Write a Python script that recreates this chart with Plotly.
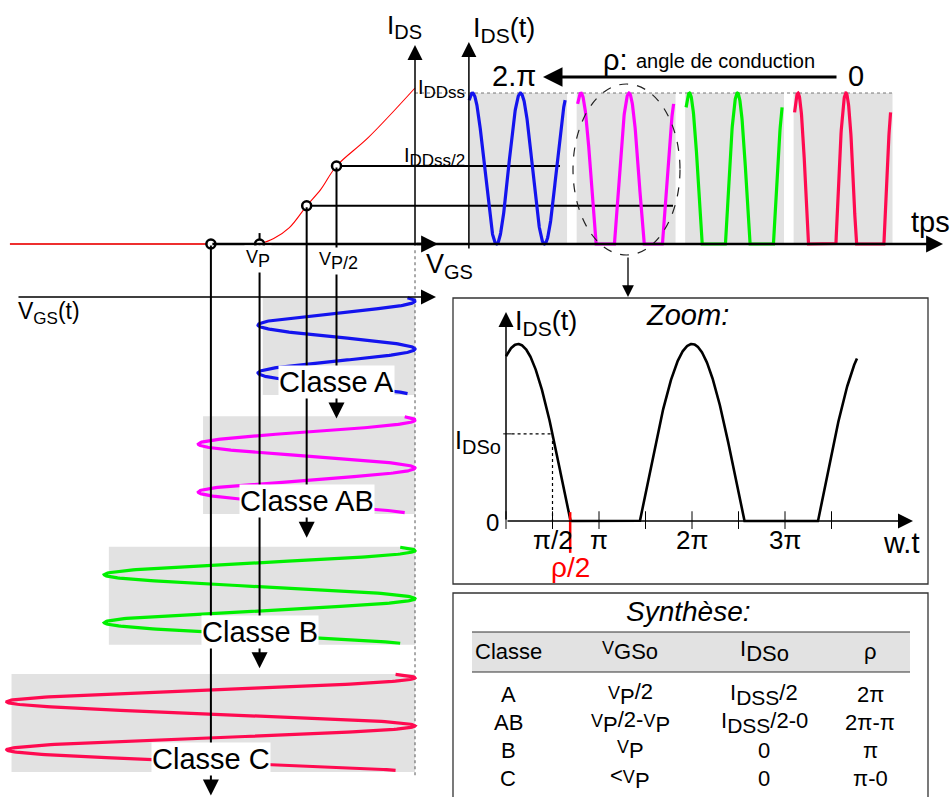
import numpy as np
import plotly.graph_objects as go

W, H = 952, 797
FONT = "Liberation Sans, Arial, sans-serif"


def sub(txt, size):
    return "<sub><span style='font-size:%dpx'>%s</span></sub>" % (size, txt)


# ------------------------------------------------------------------ data
classes = ["A", "AB", "B", "C"]
vgs_bias = [-0.5, -0.69, -0.99, -1.3]          # V_GSo / |V_P|
ids_bias = [0.5, 0.245, 0.0, 0.0]              # I_DSo / I_DSS at the Q point
ids_wave_offset = [0.5, 0.245, 0.0, -0.35]     # mean of the unclipped drain current
transfer_v = [-0.99, -0.9, -0.8, -0.69, -0.6, -0.5, -0.3, 0.0]
transfer_i = [0.0, 0.035, 0.105, 0.245, 0.35, 0.5, 0.68, 1.0]
zoom_lobe_peaks = [0.13, 2.0, 3.915]           # in units of pi
zoom_half_width = 0.56                         # rho/2 in units of pi
zoom_span = [0.0, 3.774]
zoom_tick_vals = [0, 0.5, 1, 1.5, 2, 2.5, 3, 3.5]
zoom_tick_text = ["", "π/2", "π", "", "2π", "", "3π", ""]
table_header = ["Classe", "<span style='font-size:18px'>V</span>" + sub("GSo", 22),
                "I" + sub("DSo", 22), "ρ"]
table_classe = ["A", "AB", "B", "C"]
table_vgso = ["<span style='font-size:18px'>V</span>" + sub("P", 22) + "/2",
              "<span style='font-size:18px'>V</span>" + sub("P", 22) + "/2-"
              + "<span style='font-size:18px'>V</span>" + sub("P", 22),
              "<span style='font-size:18px'>V</span>" + sub("P", 22),
              "&lt;<span style='font-size:18px'>V</span>" + sub("P", 22)]
table_idso = ["I" + sub("DSS", 21) + "/2", "I" + sub("DSS", 21) + "/2-0", "0", "0"]
table_rho = ["2π", "2π-π", "π", "π-0"]

# ------------------------------------------------------------------ style
class_colors = ["#1414ee", "#ff00ff", "#00f000", "#ff0a50"]
PANEL = "#e2e2e2"

# axis mappings (pixel origin, pixel per unit)
X1 = (415, 157)   # V_GS / |VP|
Y1 = (244, 156)   # I_DS / I_DSS (transfer)
X2 = (472.5, 48)  # time (periods) upper right
Y2 = (244, 151)   # I_DS(t)
Y3 = (301, 48)    # time (periods) downward, V_GS(t)
X3 = (506, 93)    # w.t in units of pi
Y4 = (521, 177)   # zoom current


def xr(m):
    o, s = m
    return [(0 - o) / s, (W - o) / s]


def yr_up(m):
    o, s = m
    return [(o - H) / s, o / s]


def yr_down(m):
    o, s = m
    return [(H - o) / s, (0 - o) / s]


def px(x):
    return x / W


def py(y):
    return 1 - y / H


fig = go.Figure()
ax_common = dict(visible=False, showgrid=False, zeroline=False, fixedrange=True, domain=[0, 1])
fig.update_layout(
    width=W, height=H, margin=dict(l=0, r=0, t=0, b=0, pad=0),
    paper_bgcolor="white", plot_bgcolor="rgba(0,0,0,0)", showlegend=False,
    font=dict(family=FONT, color="black"),
    xaxis=dict(range=xr(X1), **ax_common),
    xaxis2=dict(range=xr(X2), overlaying="x", anchor="y", **ax_common),
    xaxis3=dict(range=xr(X3), overlaying="x", anchor="y", **ax_common),
    yaxis=dict(range=yr_up(Y1), anchor="x", **ax_common),
    yaxis2=dict(range=yr_up(Y2), overlaying="y", anchor="x", **ax_common),
    yaxis3=dict(range=yr_down(Y3), overlaying="y", anchor="x", **ax_common),
    yaxis4=dict(range=yr_up(Y4), overlaying="y", anchor="x", **ax_common),
)


def line(xs, ys, xa="x", ya="y", color="black", width=2, dash=None, shape="linear"):
    fig.add_trace(go.Scatter(x=xs, y=ys, xaxis=xa, yaxis=ya, mode="lines",
                             line=dict(color=color, width=width, dash=dash, shape=shape),
                             hoverinfo="skip"))


def arrow(x, y, ax, ay, xref="x", yref="y", width=2, size=1.0, color="black"):
    fig.add_annotation(x=x, y=y, ax=ax, ay=ay, xref=xref, yref=yref, axref=xref, ayref=yref,
                       text="", showarrow=True, arrowhead=2, arrowsize=size,
                       arrowwidth=width, arrowcolor=color, standoff=0, startstandoff=0)


def arrow_px(xh, yh, xt, yt, width=2, size=1.0, color="black"):
    fig.add_annotation(x=px(xh), y=py(yh), ax=xt - xh, ay=yt - yh, xref="paper", yref="paper",
                       axref="pixel", ayref="pixel", text="", showarrow=True, arrowhead=2,
                       arrowsize=size, arrowwidth=width, arrowcolor=color, standoff=0,
                       startstandoff=0)


def label(text, x, y, size, xanchor="center", yanchor="middle", color="black", bg=None,
          xref="paper", yref="paper", pad=1):
    kw = {}
    if bg:
        kw = dict(bgcolor=bg, borderpad=pad)
    if xref == "paper":
        x = px(x)
    if yref == "paper":
        y = py(y)
    fig.add_annotation(x=x, y=y, xref=xref, yref=yref, text=text, showarrow=False,
                       xanchor=xanchor, yanchor=yanchor,
                       font=dict(size=size, color=color, family=FONT), **kw)


def y1_px(i):
    return Y1[0] - Y1[1] * i


def y3_from_px(p):
    return (p - Y3[0]) / Y3[1]


row_offsets = [0.0, 2.48, 5.2, 7.85]      # V_GS(t) rows (periods)
panel_offsets = [0.0, 2.26, 4.52, 6.78]   # I_DS(t) panels (periods)

# ------------------------------------------------------------------ grey panels
for k in range(4):
    v0 = vgs_bias[k]
    r = row_offsets[k]
    fig.add_shape(type="rect", xref="x", yref="y3", x0=2 * v0 + 0.03, x1=0, y0=r - 0.08,
                  y1=r + 1.96, fillcolor=PANEL, line_width=0, layer="below")
    o = panel_offsets[k]
    fig.add_shape(type="rect", xref="x2", yref="y2", x0=o - 0.09, x1=o + 1.97, y0=0, y1=1,
                  fillcolor=PANEL, line_width=0, layer="below")

# ------------------------------------------------------------------ transfer characteristic
line([-2.58, vgs_bias[3]], [0, 0], color="#777777", width=1.2)
line([-2.58, vgs_bias[2]], [0, 0], color="red", width=1.4)
line(transfer_v, transfer_i, color="red", width=1.1, shape="spline")
# I_DS axis + dotted prolongation
arrow(0, (Y1[0] - 45) / Y1[1], 0, -0.02, width=1.5, size=2.0)
line([0, 0], [-0.04, (Y1[0] - 778) / Y1[1]], color="#555555", width=1, dash="dot")
# horizontal V_GS / tps axis
arrow((943 - X1[0]) / X1[1], 0, vgs_bias[3], 0, width=2.5, size=1.35)
arrow((438 - X1[0]) / X1[1], 0, (415 - X1[0]) / X1[1], 0, width=2.5, size=1.35)
# VP tick
line([vgs_bias[2], vgs_bias[2]], [0, 0.07], width=2)
# horizontal lines from Q points of class A and AB
line([vgs_bias[0], (560 - X1[0]) / X1[1]], [ids_bias[0]] * 2, width=2)
line([vgs_bias[1], (673 - X1[0]) / X1[1]], [ids_bias[1]] * 2, width=2)
# dotted I_DSS line
line([(415 - X2[0]) / X2[1], (893 - X2[0]) / X2[1]], [1, 1], xa="x2", ya="y2",
     color="#777777", width=1, dash="dot")

# ------------------------------------------------------------------ V_GS(t) sinusoids
t = np.linspace(-0.07, 1.93, 400)
for k in range(4):
    v0 = vgs_bias[k]
    line(v0 + abs(v0) * np.cos(2 * np.pi * t), row_offsets[k] + t, xa="x", ya="y3",
         color=class_colors[k], width=3.2)

# V_GS(t) axis
arrow((436 - X1[0]) / X1[1], y3_from_px(297), (17 - X1[0]) / X1[1], y3_from_px(297),
      xref="x", yref="y3", width=1.5, size=2.0)

# vertical projection lines with arrow
for k in range(4):
    v0 = vgs_bias[k]
    top = y3_from_px(y1_px(ids_bias[k]))
    arrow(v0, row_offsets[k] + 2.45, v0, top, xref="x", yref="y3", width=2, size=1.6)

# Q-point markers
fig.add_trace(go.Scatter(x=vgs_bias, y=ids_bias, mode="markers", hoverinfo="skip",
                         marker=dict(symbol="circle", size=9, color="white",
                                     line=dict(color="black", width=2.5))))

# ------------------------------------------------------------------ I_DS(t) waveforms
for k in range(4):
    b = ids_wave_offset[k]
    i_t = np.maximum(0, b + (1 - b) * np.cos(2 * np.pi * t))
    line(panel_offsets[k] + t, i_t, xa="x2", ya="y2", color=class_colors[k], width=3.2)

arrow(-0.075, (Y2[0] - 42) / Y2[1], -0.075, -0.04, xref="x2", yref="y2", width=1.5, size=2.0)

# ellipse + arrow to the zoom box
fig.add_shape(type="circle", xref="paper", yref="paper", x0=px(573), x1=px(680),
              y0=py(84), y1=py(255), line=dict(color="#222222", width=1.2, dash="dash"))
arrow_px(628, 297, 628, 256, width=1.3, size=1.8)

# conduction angle arrow
arrow_px(543, 77, 838, 77, width=3, size=1.3)

# ------------------------------------------------------------------ zoom box
fig.add_shape(type="rect", xref="paper", yref="paper", x0=px(453), x1=px(928), y0=py(298),
              y1=py(584), line=dict(color="#333333", width=1.3))
b_z = -np.cos(zoom_half_width * np.pi) / (1 - np.cos(zoom_half_width * np.pi))
u = np.linspace(zoom_span[0], zoom_span[1], 800)
iz = np.zeros_like(u)
for pk in zoom_lobe_peaks:
    lobe = np.where(np.abs(u - pk) < 1, b_z + (1 - b_z) * np.cos(np.pi * (u - pk)), 0)
    iz = np.maximum(iz, lobe)
line(u, iz, xa="x3", ya="y4", width=2.6)
# axes
arrow(0, (Y4[0] - 312) / Y4[1], 0, 0, xref="x3", yref="y4", width=1.5, size=2.0)
arrow((913 - X3[0]) / X3[1], 0, 0, 0, xref="x3", yref="y4", width=1.5, size=2.0)
for tv in zoom_tick_vals:
    line([tv, tv], [0.055, -0.045], xa="x3", ya="y4", width=1)
# I_DSo construction
i_dso = float(np.interp(0.5, u, iz))
line([-0.03, 0.06], [i_dso, i_dso], xa="x3", ya="y4", width=1)
line([0.06, 0.5, 0.5], [i_dso, i_dso, 0], xa="x3", ya="y4", width=1.2, dash="dot")
rho_half = zoom_lobe_peaks[0] + zoom_half_width
line([rho_half, rho_half], [0.05, -0.18], xa="x3", ya="y4", color="red", width=2.5)
for tv, tt in zip(zoom_tick_vals, zoom_tick_text):
    if tt:
        label(tt, tv, (Y4[0] - 540) / Y4[1], 26, xref="x3", yref="y4")
label("ρ/2", rho_half, (Y4[0] - 567) / Y4[1], 28, color="red", xref="x3", yref="y4")
label("0", 501, 522, 24, xanchor="right")
label("I" + sub("DSo", 20), 503, 442, 25, xanchor="right")
label("w.t", 901, 543, 29)
label("I" + sub("DS", 21) + "(t)", 513, 323, 27, xanchor="left")
label("<i>Zoom:</i>", 687, 315, 29)

# ------------------------------------------------------------------ synthesis table
fig.add_shape(type="rect", xref="paper", yref="paper", x0=px(453), x1=px(928), y0=py(593),
              y1=py(805), line=dict(color="#333333", width=1.3))
fig.add_shape(type="rect", xref="paper", yref="paper", x0=px(472), x1=px(910), y0=py(632),
              y1=py(672), fillcolor="#e2e2e2", line_width=0, layer="below")
for yy in (632, 672):
    fig.add_shape(type="line", xref="paper", yref="paper", x0=px(472), x1=px(910),
                  y0=py(yy), y1=py(yy), line=dict(color="#333333", width=1.2))
label("<i>Synthèse:</i>", 688, 611, 28)
col_x = [508, 630, 764, 870]
for cx, txt in zip(col_x, table_header):
    label(txt, cx, 651, 22)
row_y = [694, 722, 750, 778]
for ry, c0, c1, c2, c3 in zip(row_y, table_classe, table_vgso, table_idso, table_rho):
    for cx, txt in zip(col_x, (c0, c1, c2, c3)):
        label(txt, cx, ry, 22)

# ------------------------------------------------------------------ other labels
label("I" + sub("DS", 20), 385, 27, 26, xanchor="left")
label("I" + sub("DS", 21) + "(t)", 471, 30, 27, xanchor="left")
label("ρ:", 601, 60, 29, xanchor="left")
label("angle de conduction", 634, 61, 20, xanchor="left")
label("2.π", 514, 76, 29)
label("0", 856, 76, 29)
label("tps", 930, 222, 29)
label("I" + sub("DDss", 17), 416, 89, 20, xanchor="left")
label("I" + sub("DDss/2", 17), 402, 157, 20, xanchor="left")
label("V" + sub("GS", 20), 424, 266, 27, xanchor="left")
label("V" + sub("P", 18), 258, 259, 18, bg="white")
label("V" + sub("P/2", 18), 338, 261, 18, bg="white")
label("V" + sub("GS", 17) + "(t)", 16, 313, 23, xanchor="left")
for k in range(4):
    label("Classe " + classes[k], vgs_bias[k], row_offsets[k] + 1.69, 29, bg="white",
          xref="x", yref="y3", pad=0)

fig.write_html("out.html", config={"displayModeBar": False},
               post_script="document.body.style.margin='0';document.body.style.overflow='hidden';")
